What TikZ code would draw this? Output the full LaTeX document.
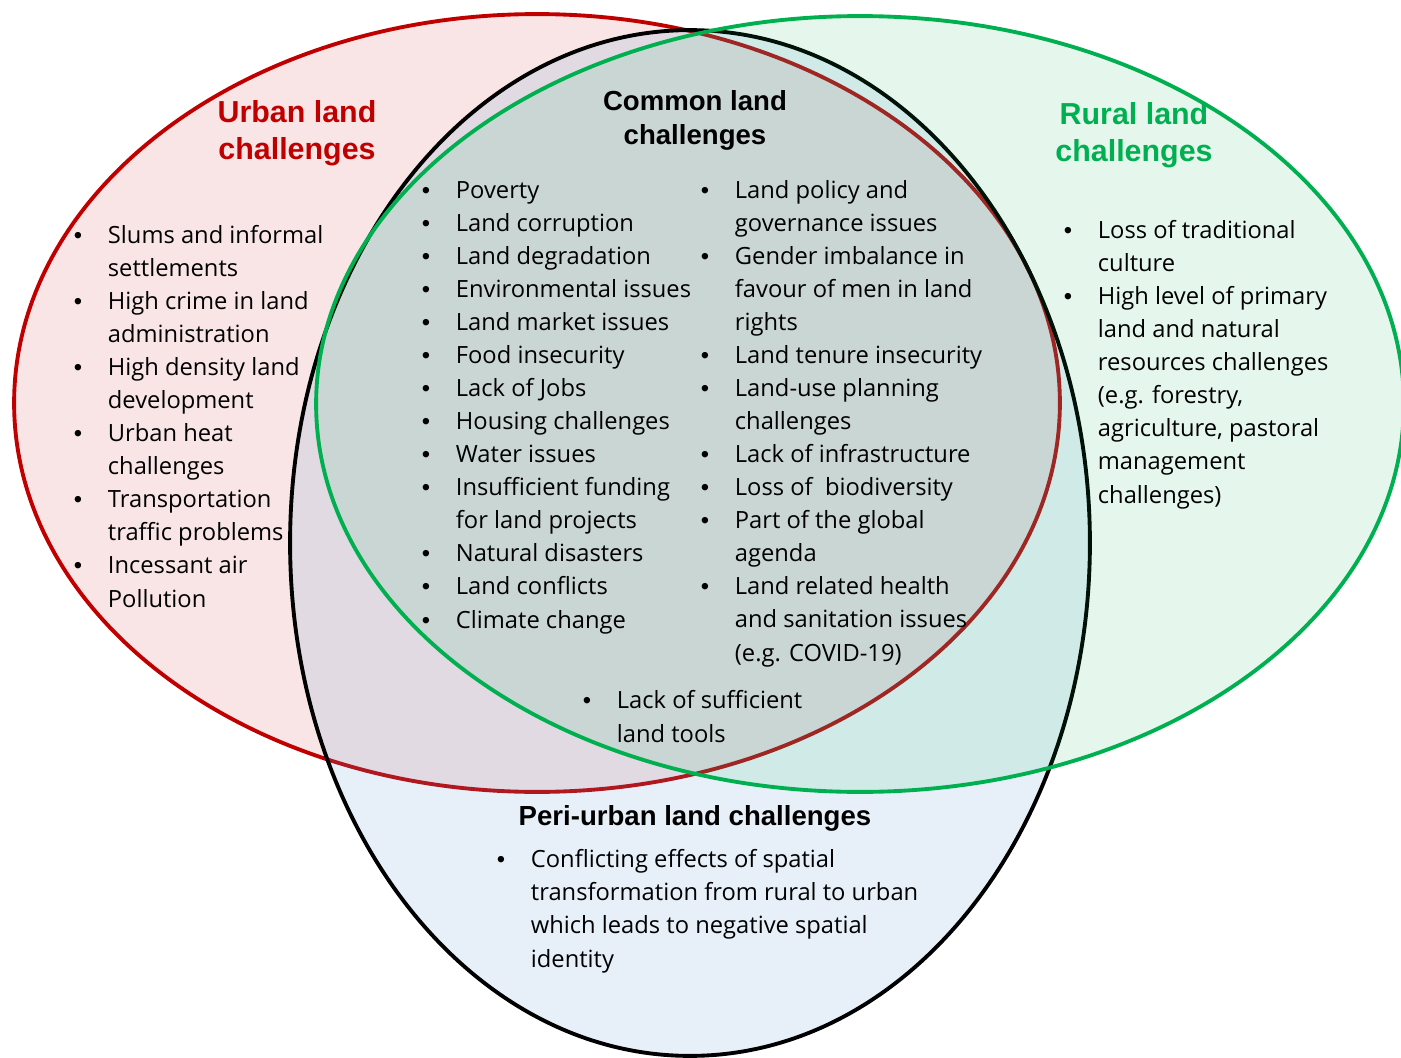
\documentclass[tikz,border=0pt]{standalone}
\usepackage{fontspec}
\setmainfont{Open Sans}
\newfontfamily\headfont{Liberation Sans}
\definecolor{urban}{HTML}{C00000}
\definecolor{rural}{HTML}{00B050}
\definecolor{peri}{HTML}{5B9BD5}
\newcommand{\bl}{\makebox[0.7cm][l]{\makebox[0.2cm]{\headfont\textbullet}}}
\newcommand{\nb}{\hspace*{0.7cm}}

\begin{document}
\begin{tikzpicture}[x=0.02cm,y=-0.02cm,line width=2.2pt]
\tikzstyle{headtxt}=[font=\headfont\bfseries\fontsize{17.3}{20.5}\selectfont,align=center,anchor=base,inner sep=0pt]
\tikzstyle{subhead}=[headtxt,font=\headfont\bfseries\fontsize{15.7}{18.8}\selectfont]
\tikzstyle{listtxt}=[font=\fontsize{13.5}{18.8}\selectfont,align=left,anchor=base west,inner sep=0pt]
\useasboundingbox (0,0) rectangle (1401,1058);
\draw[urban,fill=urban,fill opacity=0.1] (537,403) ellipse [x radius=10.46cm,y radius=7.78cm];
\draw[black,fill=peri,fill opacity=0.15] (690,543) ellipse [x radius=8cm,y radius=10.26cm];
\draw[rural,fill=rural,fill opacity=0.1] (860,404) ellipse [x radius=10.88cm,y radius=7.76cm];

\node[headtxt,text=urban] (urbanhead) at (297,159) {Urban land\\challenges};
\node[headtxt,text=rural] (ruralhead) at (1134,161) {Rural land\\challenges};
\node[subhead] (commonhead) at (695,144) {Common land\\challenges};
\node[subhead] (perihead) at (695,825) {Peri-urban land challenges};

\node[listtxt] (urbanlist) at (71,607) {\bl Slums and informal\\\nb settlements\\\bl High crime in land\\\nb administration\\\bl High density land\\\nb development\\\bl Urban heat\\\nb challenges\\\bl Transportation\\\nb traffic problems\\\bl Incessant air\\\nb Pollution};
\node[listtxt] (commonleft) at (419,628) {\bl Poverty\\\bl Land corruption\\\bl Land degradation\\\bl Environmental issues\\\bl Land market issues\\\bl Food insecurity\\\bl Lack of Jobs\\\bl Housing challenges\\\bl Water issues\\\bl Insufficient funding\\\nb for land projects\\\bl Natural disasters\\\bl Land conflicts\\\bl Climate change};
\node[listtxt] (commonright) at (698,661) {\bl Land policy and\\\nb governance issues\\\bl Gender imbalance in\\\nb favour of men in land\\\nb rights\\\bl Land tenure insecurity\\\bl Land-use planning\\\nb challenges\\\bl Lack of infrastructure\\\bl Loss of\ \ biodiversity\\\bl Part of the global\\\nb agenda\\\bl Land related health\\\nb and sanitation issues\\\nb (e.g. COVID-19)};
\node[listtxt] (commontools) at (580,742) {\bl Lack of sufficient\\\nb land tools};
\node[listtxt] (rurallist) at (1061,503) {\bl Loss of traditional\\\nb culture\\\bl High level of primary\\\nb land and natural\\\nb resources challenges\\\nb (e.g. forestry,\\\nb agriculture, pastoral\\\nb management\\\nb challenges)};
\node[listtxt] (perilist) at (494,967) {\bl Conflicting effects of spatial\\\nb transformation from rural to urban\\\nb which leads to negative spatial\\\nb identity};
\end{tikzpicture}
\end{document}
